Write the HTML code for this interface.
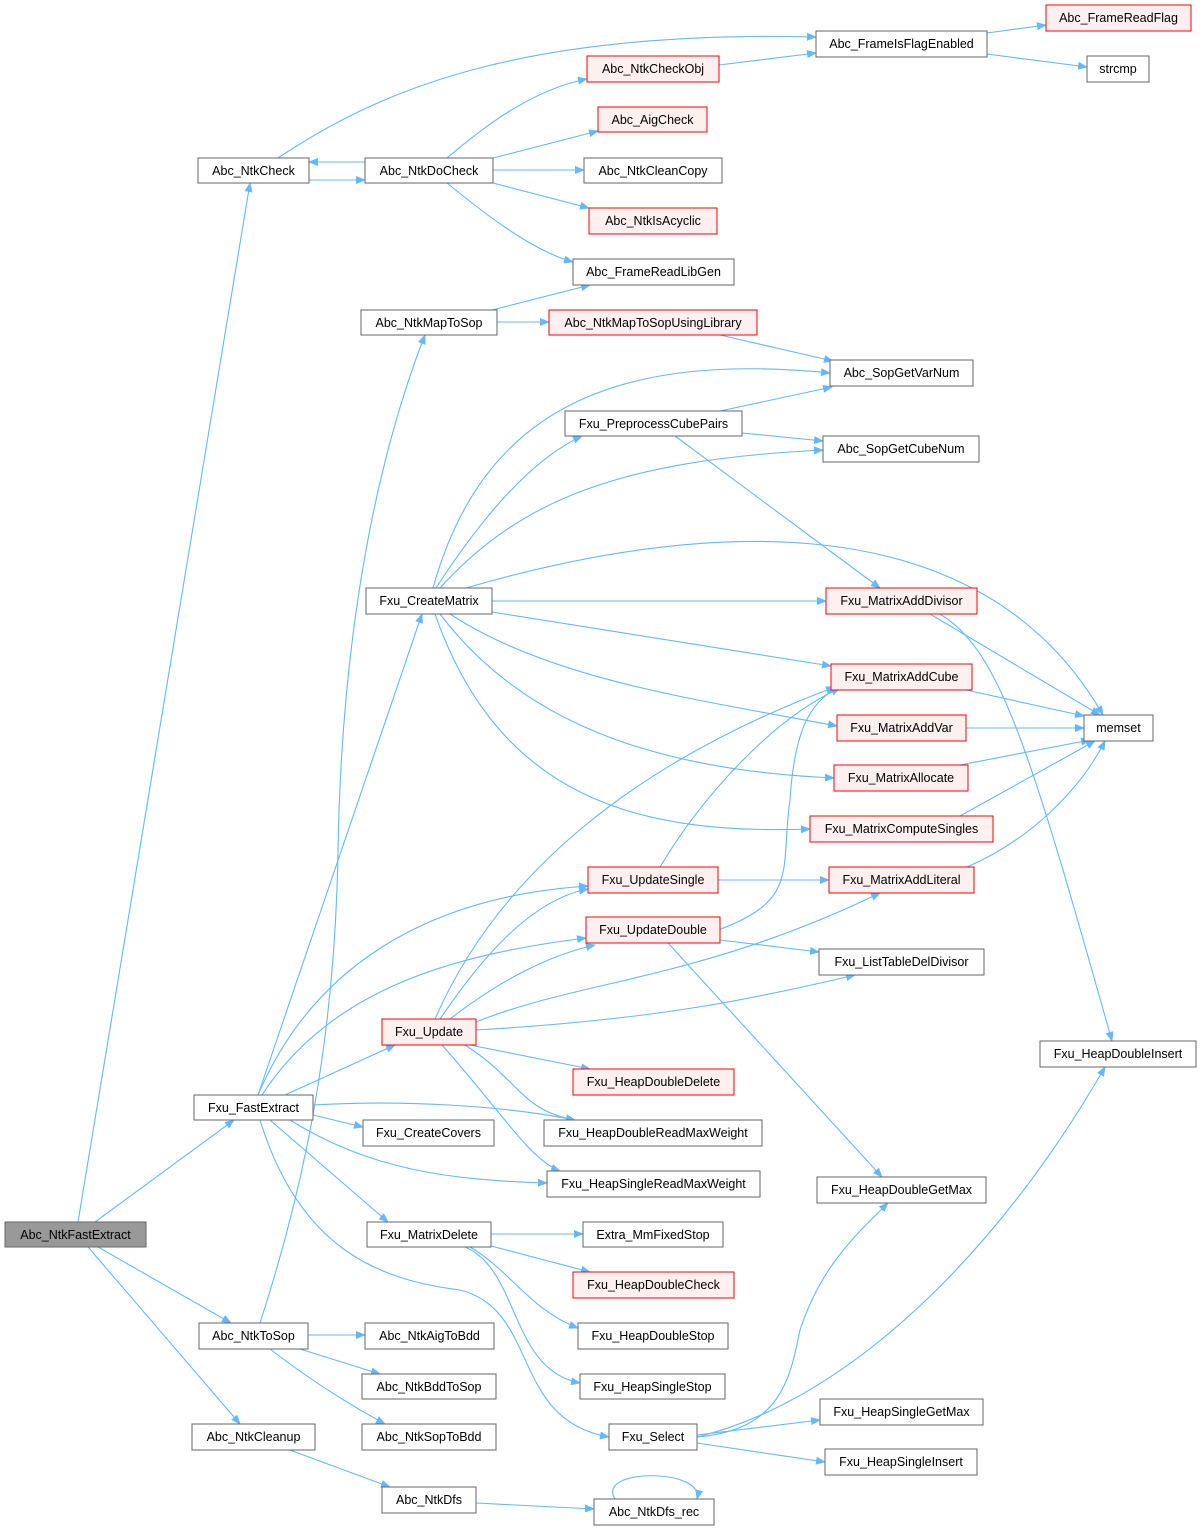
<!DOCTYPE html>
<html><head><meta charset="utf-8"><style>
html,body{margin:0;padding:0;background:#fff;}
svg{display:block;}
text{font-family:"Liberation Sans",Arial,sans-serif;font-size:12.5px;fill:#000;}
.e{fill:none;stroke:#63b8ff;stroke-width:1.1;marker-end:url(#a);}
.n{fill:#fff;stroke:#666;stroke-width:1;}
.r{fill:#fff0f0;stroke:#ff0000;stroke-width:1;}
.g{fill:#999;stroke:#666;stroke-width:1;}
</style></head><body>
<svg width="1202" height="1531" viewBox="0 0 1202 1531" xmlns="http://www.w3.org/2000/svg">
<defs><marker id="a" markerWidth="10" markerHeight="8" refX="9" refY="4" orient="auto" markerUnits="userSpaceOnUse"><path d="M0,0 L10,4 L0,8 z" fill="#63b8ff"/></marker></defs>
<g>
<path class="e" d="M78,1222 L250,183"/>
<path class="e" d="M95,1222 L234,1120"/>
<path class="e" d="M98,1247 L231,1323"/>
<path class="e" d="M88,1247 L240,1424"/>
<path class="e" d="M278,158 C380,90 520,30 816,37"/>
<path class="e" d="M309,180 L365,180"/>
<path class="e" d="M365,162 L309,162"/>
<path class="e" d="M447,158 C480,130 530,90 587,79"/>
<path class="e" d="M493,158 L598,131"/>
<path class="e" d="M493,170 L584,170"/>
<path class="e" d="M493,183 L589,208"/>
<path class="e" d="M447,183 C480,210 530,250 573,262"/>
<path class="e" d="M719,65 L816,53"/>
<path class="e" d="M987,33 L1046,25"/>
<path class="e" d="M987,54 L1087,67"/>
<path class="e" d="M492,310 L590,285"/>
<path class="e" d="M497,322 L549,322"/>
<path class="e" d="M720,335 L833,361"/>
<path class="e" d="M260,1323 C300,1200 335,1050 338,850 C342,620 380,450 425,335"/>
<path class="e" d="M308,1335 L365,1335"/>
<path class="e" d="M300,1349 L380,1374"/>
<path class="e" d="M270,1349 C310,1380 350,1405 385,1424"/>
<path class="e" d="M290,1450 L390,1487"/>
<path class="e" d="M476,1503 L594,1509"/>
<path class="e" d="M615,1499 C595,1468 705,1468 697,1499"/>
<path class="e" d="M258,1095 L422,614"/>
<path class="e" d="M258,1095 C320,950 450,895 588,886"/>
<path class="e" d="M262,1095 C330,990 450,955 586,938"/>
<path class="e" d="M285,1095 L395,1045"/>
<path class="e" d="M313,1105 C400,1100 500,1105 575,1120"/>
<path class="e" d="M313,1115 L363,1127"/>
<path class="e" d="M290,1120 C370,1170 450,1180 547,1183"/>
<path class="e" d="M270,1120 L388,1222"/>
<path class="e" d="M260,1120 C300,1250 380,1280 460,1290 C540,1310 510,1420 609,1437"/>
<path class="e" d="M433,588 C480,420 600,350 830,373"/>
<path class="e" d="M436,588 C480,520 530,460 582,436"/>
<path class="e" d="M440,588 C520,500 620,460 823,450"/>
<path class="e" d="M466,588 C700,520 980,500 1103,715"/>
<path class="e" d="M492,601 L826,601"/>
<path class="e" d="M492,612 L831,666"/>
<path class="e" d="M450,614 C550,680 700,700 837,726"/>
<path class="e" d="M440,614 C520,720 650,770 834,778"/>
<path class="e" d="M435,614 C500,800 640,835 810,829"/>
<path class="e" d="M720,411 L832,387"/>
<path class="e" d="M742,433 L823,441"/>
<path class="e" d="M675,436 L880,588"/>
<path class="e" d="M930,614 L1100,715"/>
<path class="e" d="M940,614 C1000,650 1030,750 1112,1041"/>
<path class="e" d="M966,690 L1084,716"/>
<path class="e" d="M966,728 L1084,728"/>
<path class="e" d="M960,765 L1090,740"/>
<path class="e" d="M960,816 L1095,741"/>
<path class="e" d="M967,867 C1030,840 1080,790 1105,741"/>
<path class="e" d="M718,880 L829,880"/>
<path class="e" d="M660,867 C700,800 770,720 840,688"/>
<path class="e" d="M718,930 C800,900 780,870 790,800 C795,720 815,700 840,686"/>
<path class="e" d="M720,940 L819,952"/>
<path class="e" d="M668,943 L882,1177"/>
<path class="e" d="M435,1019 C500,870 640,760 835,687"/>
<path class="e" d="M440,1019 C480,960 530,900 588,889"/>
<path class="e" d="M450,1019 C500,980 550,955 595,945"/>
<path class="e" d="M476,1022 C580,980 700,980 880,893"/>
<path class="e" d="M476,1030 C650,1020 750,1000 855,975"/>
<path class="e" d="M470,1045 L590,1069"/>
<path class="e" d="M465,1045 C520,1080 520,1110 575,1120"/>
<path class="e" d="M442,1045 C500,1110 530,1160 560,1171"/>
<path class="e" d="M491,1234 L583,1234"/>
<path class="e" d="M491,1246 L590,1272"/>
<path class="e" d="M470,1247 C510,1270 530,1310 578,1328"/>
<path class="e" d="M465,1247 C520,1270 510,1370 580,1383"/>
<path class="e" d="M697,1437 C780,1430 790,1380 800,1330 C820,1270 850,1240 888,1203"/>
<path class="e" d="M697,1437 C850,1400 1000,1250 1105,1067"/>
<path class="e" d="M697,1435 L820,1420"/>
<path class="e" d="M697,1443 L825,1462"/>
</g>
<g>
<rect class="g" x="5" y="1222" width="141" height="25"/><text x="75.5" y="1239" text-anchor="middle">Abc_NtkFastExtract</text>
<rect class="n" x="198" y="158" width="111" height="25"/><text x="253.5" y="175" text-anchor="middle">Abc_NtkCheck</text>
<rect class="n" x="365" y="158" width="128" height="25"/><text x="429" y="175" text-anchor="middle">Abc_NtkDoCheck</text>
<rect class="n" x="816" y="31" width="171" height="26"/><text x="901.5" y="48" text-anchor="middle">Abc_FrameIsFlagEnabled</text>
<rect class="r" x="1046" y="5" width="145" height="26"/><text x="1118.5" y="22" text-anchor="middle">Abc_FrameReadFlag</text>
<rect class="n" x="1087" y="56" width="62" height="26"/><text x="1118" y="73" text-anchor="middle">strcmp</text>
<rect class="r" x="587" y="56" width="132" height="26"/><text x="653" y="73" text-anchor="middle">Abc_NtkCheckObj</text>
<rect class="r" x="598" y="107" width="109" height="25"/><text x="652.5" y="124" text-anchor="middle">Abc_AigCheck</text>
<rect class="n" x="584" y="158" width="138" height="25"/><text x="653" y="175" text-anchor="middle">Abc_NtkCleanCopy</text>
<rect class="r" x="589" y="208" width="128" height="26"/><text x="653" y="225" text-anchor="middle">Abc_NtkIsAcyclic</text>
<rect class="n" x="573" y="259" width="161" height="26"/><text x="653.5" y="276" text-anchor="middle">Abc_FrameReadLibGen</text>
<rect class="n" x="361" y="310" width="136" height="25"/><text x="429" y="327" text-anchor="middle">Abc_NtkMapToSop</text>
<rect class="r" x="549" y="310" width="208" height="25"/><text x="653" y="327" text-anchor="middle">Abc_NtkMapToSopUsingLibrary</text>
<rect class="n" x="830" y="360" width="143" height="26"/><text x="901.5" y="377" text-anchor="middle">Abc_SopGetVarNum</text>
<rect class="n" x="565" y="411" width="177" height="25"/><text x="653.5" y="428" text-anchor="middle">Fxu_PreprocessCubePairs</text>
<rect class="n" x="823" y="436" width="156" height="26"/><text x="901" y="453" text-anchor="middle">Abc_SopGetCubeNum</text>
<rect class="n" x="366" y="588" width="126" height="26"/><text x="429" y="605" text-anchor="middle">Fxu_CreateMatrix</text>
<rect class="r" x="826" y="588" width="151" height="26"/><text x="901.5" y="605" text-anchor="middle">Fxu_MatrixAddDivisor</text>
<rect class="r" x="831" y="664" width="141" height="26"/><text x="901.5" y="681" text-anchor="middle">Fxu_MatrixAddCube</text>
<rect class="r" x="837" y="715" width="129" height="26"/><text x="901.5" y="732" text-anchor="middle">Fxu_MatrixAddVar</text>
<rect class="n" x="1084" y="715" width="69" height="26"/><text x="1118.5" y="732" text-anchor="middle">memset</text>
<rect class="r" x="834" y="765" width="134" height="26"/><text x="901" y="782" text-anchor="middle">Fxu_MatrixAllocate</text>
<rect class="r" x="810" y="816" width="183" height="26"/><text x="901.5" y="833" text-anchor="middle">Fxu_MatrixComputeSingles</text>
<rect class="r" x="588" y="867" width="130" height="26"/><text x="653" y="884" text-anchor="middle">Fxu_UpdateSingle</text>
<rect class="r" x="829" y="867" width="145" height="26"/><text x="901.5" y="884" text-anchor="middle">Fxu_MatrixAddLiteral</text>
<rect class="r" x="586" y="917" width="134" height="26"/><text x="653" y="934" text-anchor="middle">Fxu_UpdateDouble</text>
<rect class="n" x="819" y="949" width="165" height="26"/><text x="901.5" y="966" text-anchor="middle">Fxu_ListTableDelDivisor</text>
<rect class="r" x="382" y="1019" width="94" height="26"/><text x="429" y="1036" text-anchor="middle">Fxu_Update</text>
<rect class="n" x="1040" y="1041" width="156" height="26"/><text x="1118" y="1058" text-anchor="middle">Fxu_HeapDoubleInsert</text>
<rect class="r" x="573" y="1069" width="161" height="26"/><text x="653.5" y="1086" text-anchor="middle">Fxu_HeapDoubleDelete</text>
<rect class="n" x="194" y="1095" width="119" height="25"/><text x="253.5" y="1112" text-anchor="middle">Fxu_FastExtract</text>
<rect class="n" x="544" y="1120" width="218" height="26"/><text x="653" y="1137" text-anchor="middle">Fxu_HeapDoubleReadMaxWeight</text>
<rect class="n" x="363" y="1120" width="131" height="26"/><text x="428.5" y="1137" text-anchor="middle">Fxu_CreateCovers</text>
<rect class="n" x="547" y="1171" width="213" height="26"/><text x="653.5" y="1188" text-anchor="middle">Fxu_HeapSingleReadMaxWeight</text>
<rect class="n" x="817" y="1177" width="169" height="26"/><text x="901.5" y="1194" text-anchor="middle">Fxu_HeapDoubleGetMax</text>
<rect class="n" x="367" y="1222" width="124" height="25"/><text x="429" y="1239" text-anchor="middle">Fxu_MatrixDelete</text>
<rect class="n" x="583" y="1222" width="140" height="25"/><text x="653" y="1239" text-anchor="middle">Extra_MmFixedStop</text>
<rect class="r" x="573" y="1272" width="161" height="26"/><text x="653.5" y="1289" text-anchor="middle">Fxu_HeapDoubleCheck</text>
<rect class="n" x="199" y="1323" width="109" height="26"/><text x="253.5" y="1340" text-anchor="middle">Abc_NtkToSop</text>
<rect class="n" x="365" y="1323" width="129" height="26"/><text x="429.5" y="1340" text-anchor="middle">Abc_NtkAigToBdd</text>
<rect class="n" x="578" y="1323" width="150" height="26"/><text x="653" y="1340" text-anchor="middle">Fxu_HeapDoubleStop</text>
<rect class="n" x="362" y="1374" width="134" height="25"/><text x="429" y="1391" text-anchor="middle">Abc_NtkBddToSop</text>
<rect class="n" x="580" y="1374" width="145" height="25"/><text x="652.5" y="1391" text-anchor="middle">Fxu_HeapSingleStop</text>
<rect class="n" x="820" y="1399" width="163" height="26"/><text x="901.5" y="1416" text-anchor="middle">Fxu_HeapSingleGetMax</text>
<rect class="n" x="192" y="1424" width="123" height="26"/><text x="253.5" y="1441" text-anchor="middle">Abc_NtkCleanup</text>
<rect class="n" x="362" y="1424" width="134" height="26"/><text x="429" y="1441" text-anchor="middle">Abc_NtkSopToBdd</text>
<rect class="n" x="609" y="1424" width="88" height="26"/><text x="653" y="1441" text-anchor="middle">Fxu_Select</text>
<rect class="n" x="825" y="1449" width="152" height="26"/><text x="901" y="1466" text-anchor="middle">Fxu_HeapSingleInsert</text>
<rect class="n" x="382" y="1487" width="94" height="26"/><text x="429" y="1504" text-anchor="middle">Abc_NtkDfs</text>
<rect class="n" x="594" y="1499" width="120" height="26"/><text x="654" y="1516" text-anchor="middle">Abc_NtkDfs_rec</text>
</g>
</svg>
</body></html>
